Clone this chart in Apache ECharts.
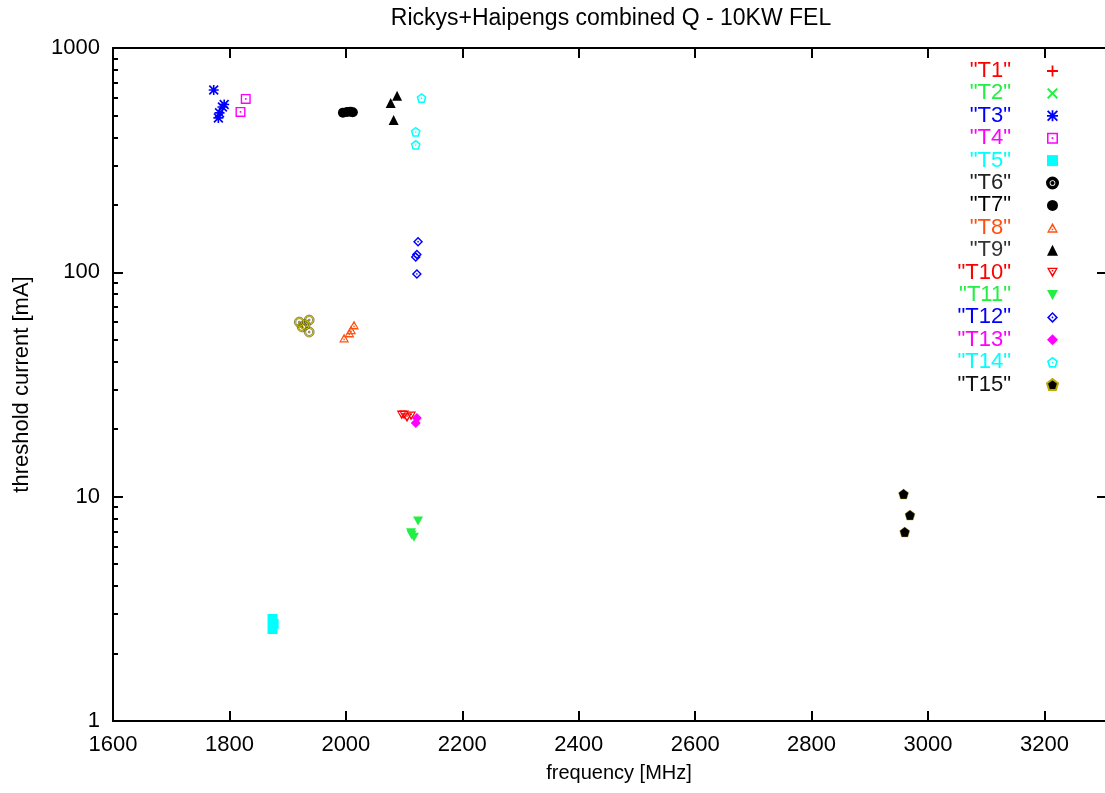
<!DOCTYPE html>
<html>
<head>
<meta charset="utf-8">
<script src="https://cdn.jsdelivr.net/npm/echarts@6/dist/echarts.min.js"></script>
<style>
  html, body { margin: 0; padding: 0; background: #fff; }
  #main { width: 1105px; height: 793px; }
</style>
</head>
<body>
<div id="main"></div>
<script>
// data: [frequency MHz, threshold current mA]
var T1 = [];
var T2 = [];
var T3 = [[1773, 650], [1788, 546], [1791, 560], [1783, 514], [1781, 488]];
var T4 = [[1828, 593], [1819, 519]];
var T5 = [[1874, 2.85], [1876, 2.71], [1874, 2.57]];
var T6 = [[1925, 57.1], [1937, 61.3], [1937, 54.2], [1930, 58.3], [1920, 60]];
var T7 = [[1995, 515], [2002, 518], [2008, 520], [2012, 517]];
var T8 = [[1997, 51], [2006, 53.7], [2009, 55.4], [2014, 58.3]];
var T9 = [[2088, 612], [2077, 569], [2082, 478]];
var T10 = [[2096, 23.1], [2100, 23.1], [2105, 22.5], [2112, 22.9]];
var T11 = [[2124, 7.79], [2113, 6.75], [2112, 6.9], [2117, 6.6]];
var T12 = [[2124, 137], [2122, 120], [2120, 117], [2122, 98.4]];
var T13 = [[2122, 22.4], [2120, 21.3]];
var T14 = [[2130, 599], [2120, 423], [2120, 370]];
var T15 = [[2958, 10.28], [2969, 8.28], [2960, 6.96]];

var xTicks = [1600, 1800, 2000, 2200, 2400, 2600, 2800, 3000, 3200];
var yMinorTicks = [2, 3, 4, 5, 6, 7, 8, 9, 20, 30, 40, 50, 60, 70, 80, 90, 200, 300, 400, 500, 600, 700, 800, 900];

// gnuplot style point shapes
var plusPath = 'path://M4.2,0H5.8V4.2H10V5.8H5.8V10H4.2V5.8H0V4.2H4.2Z';
var crossPath = 'path://M1.2,0L5,3.8L8.8,0L10,1.2L6.2,5L10,8.8L8.8,10L5,6.2L1.2,10L0,8.8L3.8,5L0,1.2Z';
var starPath = 'path://M4.2,0H5.8V4.2H10V5.8H5.8V10H4.2V5.8H0V4.2H4.2Z M1.2,0L10,8.8L8.8,10L0,1.2Z M8.8,0L10,1.2L1.2,10L0,8.8Z';
var boxOpen = 'path://M0,0H10V10H0Z M1.4,1.4V8.6H8.6V1.4Z M4.2,4.2H5.8V5.8H4.2Z';
var circOpen = 'path://M5,0A5,5 0 1,1 5,10A5,5 0 1,1 5,0Z M5,1.5A3.5,3.5 0 1,0 5,8.5A3.5,3.5 0 1,0 5,1.5Z M5,4A1,1 0 1,1 5,6A1,1 0 1,1 5,4Z';
var triOpen = 'path://M5,0L10,9L0,9Z M5,3L1.9,7.7L8.1,7.7Z M4.3,5.4H5.7V6.8H4.3Z';
var triDown = 'path://M0,0L10,0L5,9Z';
var triDownOpen = 'path://M0,0L10,0L5,9Z M1.9,1.3L5,6L8.1,1.3Z M4.3,2.2H5.7V3.6H4.3Z';
var diaOpen = 'path://M5,0L10,5L5,10L0,5Z M5,2L2,5L5,8L8,5Z M5,4L6,5L5,6L4,5Z';
var pentPath = 'path://M5,0L10,3.8L8.1,10L1.9,10L0,3.8Z';
var pentOpen = 'path://M5,0L10,3.8L8.1,10L1.9,10L0,3.8Z M5,1.8L1.7,4.3L3,8.5L7,8.5L8.3,4.3Z M4.3,4.6H5.7V6H4.3Z';

var seriesDefs = [
  {name: '"T1"', data: T1, color: '#ff0000', symbol: plusPath},
  {name: '"T2"', data: T2, color: '#22ee44', symbol: crossPath},
  {name: '"T3"', data: T3, color: '#0000ff', symbol: starPath},
  {name: '"T4"', data: T4, color: '#ff00ff', symbol: boxOpen},
  {name: '"T5"', data: T5, color: '#00ffff', symbol: 'rect'},
  {name: '"T6"', data: T6, color: '#e8dc00', symbol: circOpen, border: '#000', textColor: '#222'},
  {name: '"T7"', data: T7, color: '#000000', symbol: 'circle'},
  {name: '"T8"', data: T8, color: '#ff5010', symbol: triOpen},
  {name: '"T9"', data: T9, color: '#000000', symbol: 'triangle', textColor: '#333'},
  {name: '"T10"', data: T10, color: '#ff0000', symbol: triDownOpen},
  {name: '"T11"', data: T11, color: '#22ee44', symbol: triDown},
  {name: '"T12"', data: T12, color: '#0000ff', symbol: diaOpen},
  {name: '"T13"', data: T13, color: '#ff00ff', symbol: 'diamond'},
  {name: '"T14"', data: T14, color: '#00ffff', symbol: pentOpen},
  {name: '"T15"', data: T15, color: '#000000', symbol: pentPath, border: '#bbaa00', textColor: '#111'}
];

var font = 'Liberation Sans';
var plain = function (v) { return String(v); };

var series = seriesDefs.map(function (d) {
  return {
    name: d.name,
    type: 'scatter',
    data: d.data,
    symbol: d.symbol,
    symbolSize: 10,
    symbolKeepAspect: true,
    itemStyle: {
      color: d.color,
      opacity: 1,
      borderColor: d.border || d.color,
      borderWidth: d.border ? 0.4 : 0
    },
    emphasis: {disabled: true}
  };
});

var myChart = echarts.init(document.getElementById('main'));
myChart.setOption({
  backgroundColor: '#fff',
  animation: false,
  title: {
    text: 'Rickys+Haipengs combined Q - 10KW FEL',
    left: 606,
    textAlign: 'center',
    top: 2,
    textStyle: {fontFamily: font, fontSize: 23, fontWeight: 'normal', color: '#000'}
  },
  legend: {
    orient: 'vertical',
    align: 'right',
    right: 41,
    top: 55,
    itemWidth: 11,
    itemHeight: 11,
    itemGap: 0.4,
    textStyle: {fontFamily: font, fontSize: 22, padding: [0, 31, 0, 0]},
    data: seriesDefs.map(function (d) {
      return {name: d.name, textStyle: {color: d.textColor || d.color}};
    })
  },
  // right border of the frame falls just outside the picture
  grid: {left: 113, top: 48, bottom: 72, right: 0, containLabel: false},
  xAxis: [
    {
      type: 'value',
      position: 'bottom',
      min: 1600,
      max: 3304,
      name: 'frequency [MHz]',
      nameLocation: 'middle',
      nameGap: 42,
      nameTextStyle: {fontFamily: font, fontSize: 20, color: '#000', padding: [0, 0, 0, 20]},
      axisLine: {show: true, onZero: false, lineStyle: {color: '#000', width: 2}},
      axisTick: {show: true, inside: true, length: 10, customValues: xTicks, lineStyle: {color: '#000', width: 2}},
      axisLabel: {customValues: xTicks, formatter: plain, margin: 13, fontFamily: font, fontSize: 22, color: '#000'},
      splitLine: {show: false}
    },
    {
      type: 'value',
      position: 'top',
      min: 1600,
      max: 3304,
      axisLine: {show: true, onZero: false, lineStyle: {color: '#000', width: 2}},
      axisTick: {show: true, inside: true, length: 10, customValues: xTicks, lineStyle: {color: '#000', width: 2}},
      axisLabel: {show: false},
      splitLine: {show: false}
    }
  ],
  yAxis: [
    {
      type: 'log',
      logBase: 10,
      position: 'left',
      min: 1,
      max: 1000,
      name: 'threshold current [mA]',
      nameLocation: 'middle',
      nameGap: 80,
      nameTextStyle: {fontFamily: font, fontSize: 22, color: '#000'},
      axisLine: {show: true, onZero: false, lineStyle: {color: '#000', width: 2}},
      axisTick: {show: true, inside: true, length: 10, lineStyle: {color: '#000', width: 2}},
      axisLabel: {formatter: plain, margin: 13, fontFamily: font, fontSize: 22, color: '#000'},
      splitLine: {show: false}
    },
    {
      // minor ticks 2..9 on left side
      type: 'log',
      logBase: 10,
      position: 'left',
      min: 1,
      max: 1000,
      axisLine: {show: false},
      axisTick: {show: true, inside: true, length: 5, customValues: yMinorTicks, lineStyle: {color: '#000', width: 2}},
      axisLabel: {show: false},
      splitLine: {show: false}
    },
    {
      type: 'log',
      logBase: 10,
      position: 'right',
      min: 1,
      max: 1000,
      axisLine: {show: false},
      axisTick: {show: true, inside: true, length: 8, lineStyle: {color: '#000', width: 2}},
      axisLabel: {show: false},
      splitLine: {show: false}
    }
  ],
  series: series
});
</script>
</body>
</html>
